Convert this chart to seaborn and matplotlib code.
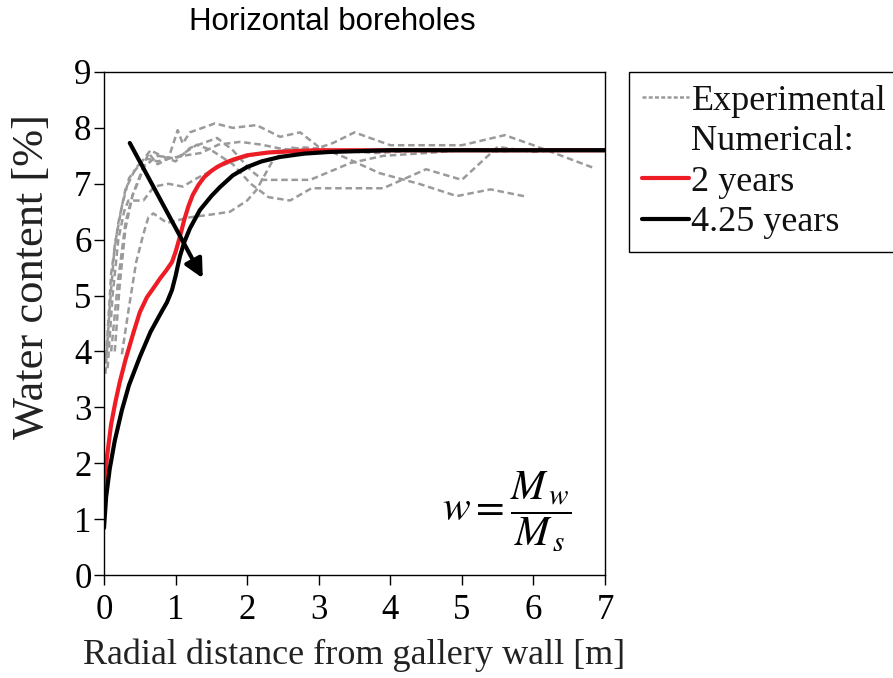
import numpy as np
import pandas as pd
import matplotlib
matplotlib.use("Agg")
import matplotlib.pyplot as plt
import seaborn as sns
from matplotlib.lines import Line2D

# ---------------- data ----------------
exp1_x = [0.03,0.1,0.2,0.3,0.45,0.6,0.75,0.9,1.03,1.1,1.2,1.55,1.8,2.13,2.46,2.74,3.0,3.35,3.85,4.4,4.93,5.4,5.9]
exp1_y = [3.9,5.4,6.3,6.9,7.3,7.45,7.4,7.45,7.96,7.72,7.92,8.08,8.0,8.05,7.84,7.92,7.66,7.48,7.19,7.0,6.78,6.9,6.77]
exp2_x = [0.02,0.08,0.15,0.25,0.35,0.5,0.65,0.8,1.0,1.2,1.58,1.8,2.05,2.22,2.88,3.44,3.9,4.5,5.0,5.5,6.1]
exp2_y = [3.6,4.8,5.9,6.6,7.1,7.35,7.6,7.5,7.4,7.64,7.82,7.6,7.24,7.07,7.07,7.37,7.5,7.55,7.6,7.58,7.6]
exp3_x = [0.1,0.2,0.3,0.4,0.55,0.75,1.0,1.3,1.5,1.8,2.05,2.3,2.6,2.9,3.9,4.5,5.0,5.5,6.0,6.3]
exp3_y = [4.0,5.3,6.3,6.8,7.3,7.5,7.45,7.7,7.6,7.35,7.0,6.76,6.7,6.92,6.92,7.26,7.07,7.66,7.57,7.6]
exp4_x = [0.25,0.35,0.45,0.55,0.62,0.69,0.88,1.2,1.5,1.76,2.0,2.13,2.36,2.6,2.9,3.2,3.5,4.0,5.0,5.6,6.0,6.85]
exp4_y = [3.95,4.8,5.6,6.1,6.4,6.47,6.3,6.4,6.45,6.5,6.7,6.89,7.42,7.65,7.6,7.73,7.92,7.69,7.69,7.87,7.69,7.28]
exp5_x = [0.05,0.12,0.2,0.28,0.34,0.55,0.7,0.9,1.1,1.3,1.6,1.9,2.2,2.5,2.8,3.2,3.8,4.4,5.0]
exp5_y = [3.7,5.0,6.0,6.5,6.7,6.7,6.95,7.0,6.95,7.1,7.3,7.45,7.55,7.6,7.65,7.6,7.55,7.6,7.6]
exp6_x = [0.15,0.22,0.3,0.4,0.5,0.62,0.75,0.9,1.1,1.35,1.6,1.9,2.2,2.5,2.8,3.2]
exp6_y = [4.0,5.2,6.2,6.8,7.1,7.55,7.35,7.45,7.5,7.55,7.7,7.75,7.7,7.62,7.6,7.55]

num2_x = [0,0.04,0.1,0.16,0.22,0.3,0.41,0.5,0.6,0.7,0.78,0.87,0.95,1.0,1.06,1.12,1.18,1.24,1.32,1.4,1.5,1.58,1.7,1.8,2.0,2.3,2.6,2.95,3.5,5,7]
num2_y = [1.34,2.1,2.7,3.1,3.45,3.85,4.33,4.7,4.97,5.15,5.3,5.45,5.6,5.78,6.05,6.35,6.6,6.8,6.98,7.12,7.23,7.3,7.38,7.43,7.51,7.56,7.58,7.6,7.6,7.6,7.6]
num425_x = [0,0.03,0.08,0.15,0.25,0.35,0.5,0.65,0.8,0.88,0.95,1.0,1.06,1.12,1.2,1.34,1.5,1.62,1.8,2.0,2.2,2.46,2.8,3.16,4,7]
num425_y = [0.84,1.4,1.9,2.4,2.95,3.4,3.9,4.35,4.7,4.88,5.1,5.35,5.7,5.95,6.2,6.53,6.78,6.94,7.15,7.3,7.4,7.48,7.54,7.57,7.6,7.6]

exp_series = [(exp1_x, exp1_y), (exp2_x, exp2_y), (exp3_x, exp3_y),
              (exp4_x, exp4_y), (exp5_x, exp5_y), (exp6_x, exp6_y)]

x_ticks = [0, 1, 2, 3, 4, 5, 6, 7]
y_ticks = [0, 1, 2, 3, 4, 5, 6, 7, 8, 9]

title = "Horizontal boreholes"
x_label = "Radial distance from gallery wall [m]"
y_label = "Water content [%]"
legend_labels = ["Experimental", "Numerical:", "2 years", "4.25 years"]

# ---------------- frames ----------------
exp_df = pd.concat([pd.DataFrame({"x": sx, "y": sy, "unit": i})
                    for i, (sx, sy) in enumerate(exp_series)], ignore_index=True)
num2_df = pd.DataFrame({"x": num2_x, "y": num2_y})
num425_df = pd.DataFrame({"x": num425_x, "y": num425_y})

# ---------------- style ----------------
sns.set_theme(style="ticks")
plt.rcParams["font.family"] = ["Liberation Serif", "DejaVu Serif"]
plt.rcParams["mathtext.fontset"] = "stix"

W, H = 893, 678
fig = plt.figure(figsize=(W / 100, H / 100), dpi=100)
ax = fig.add_axes([104 / W, 1 - 575 / H, (605 - 104) / W, (575 - 72) / H])

gray = "#9a9a9a"
sns.lineplot(data=exp_df, x="x", y="y", units="unit", estimator=None,
             color=gray, lw=1.8, ax=ax, sort=False, legend=False)
for ln in ax.get_lines():
    ln.set_dashes((2.6, 1.5))

sns.lineplot(data=num2_df, x="x", y="y", color="#ee1c25", lw=3.0, ax=ax,
             sort=False, legend=False)
sns.lineplot(data=num425_df, x="x", y="y", color="black", lw=3.0, ax=ax,
             sort=False, legend=False)

ax.set_xlim(0, 7)
ax.set_ylim(0, 9)
ax.set_xticks(x_ticks)
ax.set_yticks(y_ticks)
ax.tick_params(axis="both", direction="out", length=7, width=1.0,
               labelsize=25, colors="black")
ax.tick_params(axis="x", pad=7)
ax.tick_params(axis="y", pad=2)
for s in ax.spines.values():
    s.set_visible(True)
    s.set_color("black")
    s.set_linewidth(1.0)
ax.set_xlabel(x_label, fontsize=26, color="#222222")
ax.xaxis.set_label_coords(0.5, (575 - 672) / 503)
ax.xaxis.label.set_va("bottom")
ax.set_ylabel(y_label, fontsize=32, color="#222222")
ax.yaxis.set_label_coords((52 - 104) / 501, (575 - 277) / 503)

# arrow
ax.annotate("", xy=(1.38, 5.31), xytext=(0.36, 7.73),
            arrowprops=dict(arrowstyle="-|>", color="black", lw=3,
                            mutation_scale=28, shrinkA=0, shrinkB=0))

# formula
ax.text(5.63, 1.13, r"$w=\dfrac{M_{\,w}}{M_{\,s}}$", fontsize=30, ha="center",
        va="center", color="black")

# title
fig.text(332 / W, 1 - 22 / H, title, fontsize=22.5, ha="center", va="center",
         family=["Liberation Sans", "DejaVu Sans"], color="black")

# legend
handles = [Line2D([], [], color=gray, lw=1.8, dashes=(1.6, 0.9)),
           Line2D([], [], color="none"),
           Line2D([], [], color="#ee1c25", lw=3.0),
           Line2D([], [], color="black", lw=3.0)]
leg = fig.legend(handles, legend_labels, loc="upper left",
                 bbox_to_anchor=(629 / W, 1 - 72 / H), borderaxespad=0,
                 fontsize=26, frameon=True, fancybox=False, framealpha=1,
                 edgecolor="black", handlelength=1.3, handletextpad=0.08,
                 labelspacing=0.2, borderpad=0.35)
leg.get_frame().set_linewidth(1.0)
for t in leg.get_texts():
    t.set_color("#111111")

fig.savefig("out.png", dpi=100)
